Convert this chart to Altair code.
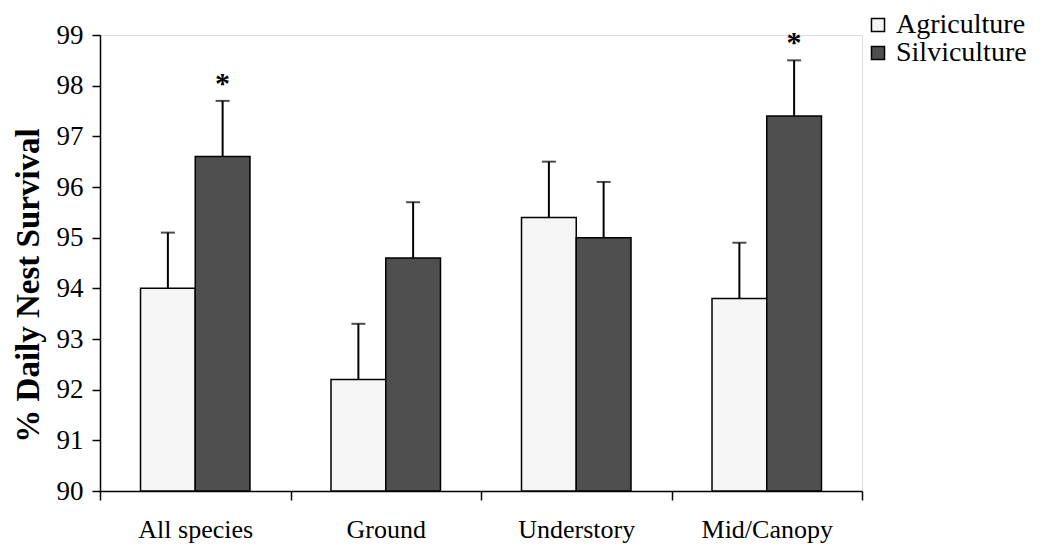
import altair as alt
import pandas as pd

categories = ["All species", "Ground", "Understory", "Mid/Canopy"]
series = ["Agriculture", "Silviculture"]
agriculture = [94.0, 92.2, 95.4, 93.8]
silviculture = [96.6, 94.6, 95.0, 97.4]
agri_err = [1.1, 1.1, 1.1, 1.1]
silvi_err = [1.1, 1.1, 1.1, 1.1]
agri_sig = ["", "", "", ""]
silvi_sig = ["*", "", "", "*"]
y_ticks = [90, 91, 92, 93, 94, 95, 96, 97, 98, 99]

rows = []
for i, c in enumerate(categories):
    rows.append({"cat": c, "series": "Agriculture", "value": agriculture[i],
                 "upper": agriculture[i] + agri_err[i], "sig": agri_sig[i]})
    rows.append({"cat": c, "series": "Silviculture", "value": silviculture[i],
                 "upper": silviculture[i] + silvi_err[i], "sig": silvi_sig[i]})
df = pd.DataFrame(rows)

FONT = "Liberation Serif"

x_scale = alt.Scale(paddingInner=0, paddingOuter=0)
xo_scale = alt.Scale(paddingInner=0, paddingOuter=0.74)

x_enc = alt.X("cat:N", sort=categories, scale=x_scale,
              axis=alt.Axis(title=None, tickBand="extent", labelAngle=0,
                            labelFont=FONT, labelFontSize=26, labelColor="black",
                            labelPadding=16, tickSize=9, tickColor="black",
                            tickWidth=1.5, domainColor="black", domainWidth=1.5,
                            grid=False))
xo_enc = alt.XOffset("series:N", sort=series, scale=xo_scale)
y_scale = alt.Scale(domain=[90, 99], zero=False, nice=False)

base = alt.Chart(df)

bars = base.mark_bar(stroke="black", strokeWidth=1.5, opacity=1).encode(
    x=x_enc,
    xOffset=xo_enc,
    y=alt.Y("value:Q", scale=y_scale,
            axis=alt.Axis(values=y_ticks, title="% Daily Nest Survival",
                          labelFont=FONT, labelFontSize=27, labelColor="black",
                          labelPadding=9, tickSize=8, tickColor="black", tickWidth=1.5,
                          domainColor="black", domainWidth=1.5, grid=False,
                          titleFont=FONT, titleFontSize=33, titleFontWeight="bold",
                          titleColor="black", titleAngle=270, titleAlign="center",
                          titleBaseline="middle", titleX=-72, titleY=250)),
    y2=alt.datum(90),
    color=alt.Color("series:N", sort=series,
                    scale=alt.Scale(domain=series, range=["#f5f5f5", "#4f4f4f"]),
                    legend=alt.Legend(title=None, orient="none", legendX=764, legendY=-24,
                                      symbolType="square", symbolSize=170,
                                      symbolStrokeColor="black", symbolStrokeWidth=1.5,
                                      symbolOpacity=1,
                                      labelFont=FONT, labelFontSize=28, labelColor="black",
                                      labelOffset=4, rowPadding=-2)),
)

err = base.mark_rule(color="black", strokeWidth=2).encode(
    x=alt.X("cat:N", sort=categories, scale=x_scale),
    xOffset=alt.XOffset("series:N", sort=series, scale=xo_scale),
    y=alt.Y("value:Q", scale=y_scale), y2="upper:Q")

caps = base.mark_tick(color="black", thickness=2, size=14).encode(
    x=alt.X("cat:N", sort=categories, scale=x_scale),
    xOffset=alt.XOffset("series:N", sort=series, scale=xo_scale),
    y=alt.Y("upper:Q", scale=y_scale))

stars = base.mark_text(font=FONT, fontSize=30, fontWeight="bold", color="black",
                       baseline="alphabetic", dy=-8).encode(
    x=alt.X("cat:N", sort=categories, scale=x_scale),
    xOffset=alt.XOffset("series:N", sort=series, scale=xo_scale),
    y=alt.Y("upper:Q", scale=y_scale), text="sig:N")

chart = alt.layer(bars, err, caps, stars).properties(
    width=762, height=456,
    autosize=alt.AutoSizeParams(type="none"),
    padding={"left": 92, "top": 27, "right": 194, "bottom": 53},
).configure_view(stroke=None).configure(background="white")

chart.save("out.html", embed_options={"renderer": "svg", "actions": False})
